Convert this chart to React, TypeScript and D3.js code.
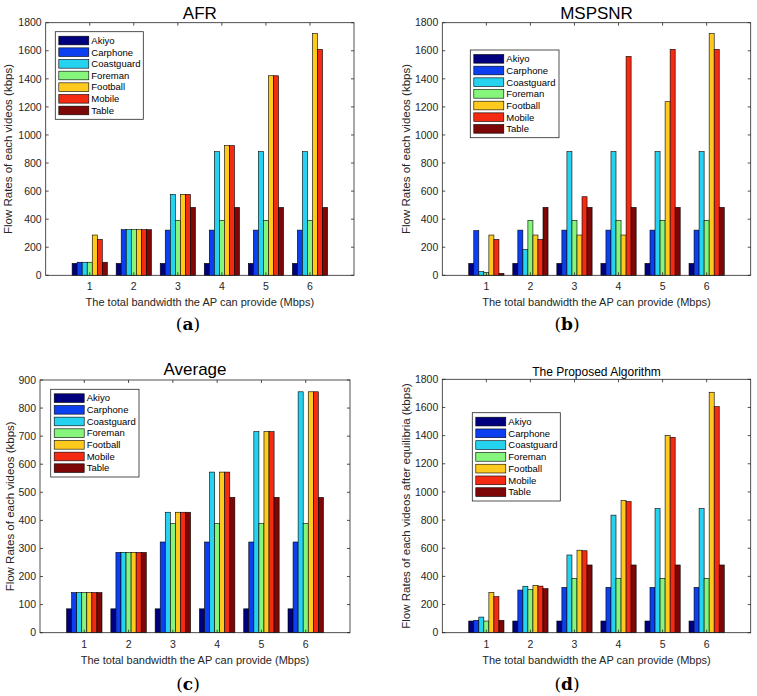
import * as d3 from "d3"

// Videos (series) and bandwidth categories
const videos = ["Akiyo", "Carphone", "Coastguard", "Foreman", "Football", "Mobile", "Table"]
const bandwidths = [1, 2, 3, 4, 5, 6]
const colors = ["#00007f", "#0b3ff0", "#25d2f0", "#86f57c", "#ffca1e", "#f52a12", "#7d0606"]

// Values per video, one entry per bandwidth (kbps)
const afr = [
  [85, 85, 85, 85, 85, 85],
  [93, 325, 322, 322, 322, 322],
  [93, 325, 577, 881, 881, 881],
  [93, 325, 392, 392, 392, 392],
  [287, 325, 577, 924, 1422, 1722],
  [256, 325, 577, 924, 1422, 1610],
  [93, 325, 484, 484, 484, 484],
]

const mspsnr = [
  [85, 85, 85, 85, 85, 85],
  [318, 322, 322, 322, 322, 322],
  [26, 183, 881, 881, 881, 881],
  [19, 392, 392, 392, 392, 392],
  [287, 287, 287, 287, 1237, 1722],
  [256, 256, 560, 1560, 1610, 1610],
  [14, 484, 484, 484, 484, 484],
]

const average = [
  [85, 85, 85, 85, 85, 85],
  [143, 286, 323, 323, 323, 323],
  [143, 286, 429, 572, 716, 858],
  [143, 286, 389, 389, 389, 389],
  [143, 286, 429, 572, 716, 858],
  [143, 286, 429, 572, 716, 858],
  [143, 286, 429, 482, 482, 482],
]

const proposed = [
  [83, 83, 83, 83, 83, 83],
  [88, 303, 322, 322, 322, 322],
  [111, 330, 552, 835, 881, 881],
  [83, 308, 386, 386, 386, 386],
  [287, 336, 586, 938, 1400, 1708],
  [256, 331, 582, 931, 1388, 1606],
  [88, 313, 481, 481, 481, 481],
]

const yTicksLarge = [0, 200, 400, 600, 800, 1000, 1200, 1400, 1600, 1800]
const yTicksSmall = [0, 100, 200, 300, 400, 500, 600, 700, 800, 900]

const FONT = "'Liberation Sans', Arial, Helvetica, sans-serif"
const AXIS = "#262626"

interface PanelProps {
  data: number[][]
  title: string
  titleSize: number
  titleY: number
  yMax: number
  yTicks: number[]
  yLabel: string
  yLabelX: number
  box: { left: number; right: number; top: number; bottom: number }
  legend: { x: number; y: number; w: number; h: number }
  tag: string
  tagX: number
  tagY: number
}

function Panel(p: PanelProps) {
  const { left, right, top, bottom } = p.box
  const x = d3.scaleLinear().domain([0, 7]).range([left, right])
  const y = d3.scaleLinear().domain([0, p.yMax]).range([bottom, top])
  const groupW = 0.8
  const barW = groupW / videos.length
  const tickLen = 3

  const rowH = (p.legend.h - 6) / videos.length

  return (
    <g>
      <rect x={left} y={top} width={right - left} height={bottom - top} fill="#fff" />
      {/* bars */}
      {p.data.map((series, si) =>
        series.map((v, bi) => {
          const x0 = x(bandwidths[bi] - groupW / 2 + si * barW)
          const x1 = x(bandwidths[bi] - groupW / 2 + (si + 1) * barW)
          return (
            <rect
              key={`${si}-${bi}`}
              x={x0}
              y={y(v)}
              width={x1 - x0}
              height={y(0) - y(v)}
              fill={colors[si]}
              stroke="#000"
              strokeWidth={0.6}
            />
          )
        })
      )}
      {/* box */}
      <rect x={left} y={top} width={right - left} height={bottom - top} fill="none" stroke={AXIS} strokeWidth={0.8} />
      {/* y ticks */}
      {p.yTicks.map((t) => (
        <g key={`y${t}`}>
          <line x1={left} x2={left + tickLen} y1={y(t)} y2={y(t)} stroke={AXIS} strokeWidth={0.8} />
          <line x1={right} x2={right - tickLen} y1={y(t)} y2={y(t)} stroke={AXIS} strokeWidth={0.8} />
          <text x={left - 4} y={y(t)} dy="0.35em" textAnchor="end" fontSize={10.5} fill={AXIS} fontFamily={FONT}>
            {t}
          </text>
        </g>
      ))}
      {/* x ticks */}
      {bandwidths.map((b) => (
        <g key={`x${b}`}>
          <line x1={x(b)} x2={x(b)} y1={bottom} y2={bottom - tickLen} stroke={AXIS} strokeWidth={0.8} />
          <line x1={x(b)} x2={x(b)} y1={top} y2={top + tickLen} stroke={AXIS} strokeWidth={0.8} />
          <text x={x(b)} y={bottom + 15} textAnchor="middle" fontSize={10.5} fill={AXIS} fontFamily={FONT}>
            {b}
          </text>
        </g>
      ))}
      {/* axis labels */}
      <text x={(left + right) / 2} y={bottom + 31} textAnchor="middle" fontSize={11} fill={AXIS} fontFamily={FONT}>
        The total bandwidth the AP can provide (Mbps)
      </text>
      <text
        transform={`translate(${p.yLabelX},${(top + bottom) / 2}) rotate(-90)`}
        textAnchor="middle"
        fontSize={11.5}
        fill={AXIS}
        fontFamily={FONT}
      >
        {p.yLabel}
      </text>
      {/* title */}
      <text x={(left + right) / 2} y={p.titleY} textAnchor="middle" fontSize={p.titleSize} fill="#000" fontFamily={FONT}>
        {p.title}
      </text>
      {/* legend */}
      <rect x={p.legend.x} y={p.legend.y} width={p.legend.w} height={p.legend.h} fill="#fff" stroke={AXIS} strokeWidth={0.8} />
      {videos.map((v, i) => {
        const ry = p.legend.y + 3 + i * rowH
        return (
          <g key={v}>
            <rect x={p.legend.x + 3.5} y={ry + 1.5} width={30} height={rowH - 3} fill={colors[i]} stroke="#000" strokeWidth={0.6} />
            <text x={p.legend.x + 36} y={ry + rowH / 2} dy="0.35em" fontSize={9.5} fill="#000" fontFamily={FONT}>
              {v}
            </text>
          </g>
        )
      })}
      {/* panel tag */}
      <text x={p.tagX} y={p.tagY} textAnchor="middle" fontSize={17} fontFamily="'DejaVu Serif', 'Liberation Serif', serif" fill="#000">
        (<tspan fontWeight="bold">{p.tag}</tspan>)
      </text>
    </g>
  )
}

export default function App() {
  return (
    <svg width={757} height={696} style={{ position: "absolute", left: 0, top: 0, background: "#fff" }}>
      <rect width={757} height={696} fill="#fff" />
      <Panel
        data={afr}
        title="AFR"
        titleSize={17}
        titleY={18.5}
        yMax={1800}
        yTicks={yTicksLarge}
        yLabel="Flow Rates of each videos (kbps)"
        yLabelX={12}
        box={{ left: 45.7, right: 354, top: 22.7, bottom: 275.3 }}
        legend={{ x: 55.3, y: 31.7, w: 88, h: 87.6 }}
        tag="a"
        tagX={188}
        tagY={330}
      />
      <Panel
        data={mspsnr}
        title="MSPSNR"
        titleSize={17}
        titleY={18.5}
        yMax={1800}
        yTicks={yTicksLarge}
        yLabel="Flow Rates of each videos (kbps)"
        yLabelX={410}
        box={{ left: 442.3, right: 750.7, top: 22.7, bottom: 275.3 }}
        legend={{ x: 470.3, y: 50, w: 88.7, h: 87.7 }}
        tag="b"
        tagX={567}
        tagY={330}
      />
      <Panel
        data={average}
        title="Average"
        titleSize={17}
        titleY={375}
        yMax={900}
        yTicks={yTicksSmall}
        yLabel="Flow Rates of each videos (kbps)"
        yLabelX={14}
        box={{ left: 40, right: 350, top: 380, bottom: 632.7 }}
        legend={{ x: 50.7, y: 389.3, w: 88.3, h: 87.7 }}
        tag="c"
        tagX={188}
        tagY={690}
      />
      <Panel
        data={proposed}
        title="The Proposed Algorithm"
        titleSize={12}
        titleY={376}
        yMax={1800}
        yTicks={yTicksLarge}
        yLabel="Flow Rates of each videos after equilibria (kbps)"
        yLabelX={410}
        box={{ left: 442.3, right: 750.7, top: 379.3, bottom: 632.7 }}
        legend={{ x: 472.3, y: 412.7, w: 88, h: 88.3 }}
        tag="d"
        tagX={567}
        tagY={690}
      />
    </svg>
  )
}
